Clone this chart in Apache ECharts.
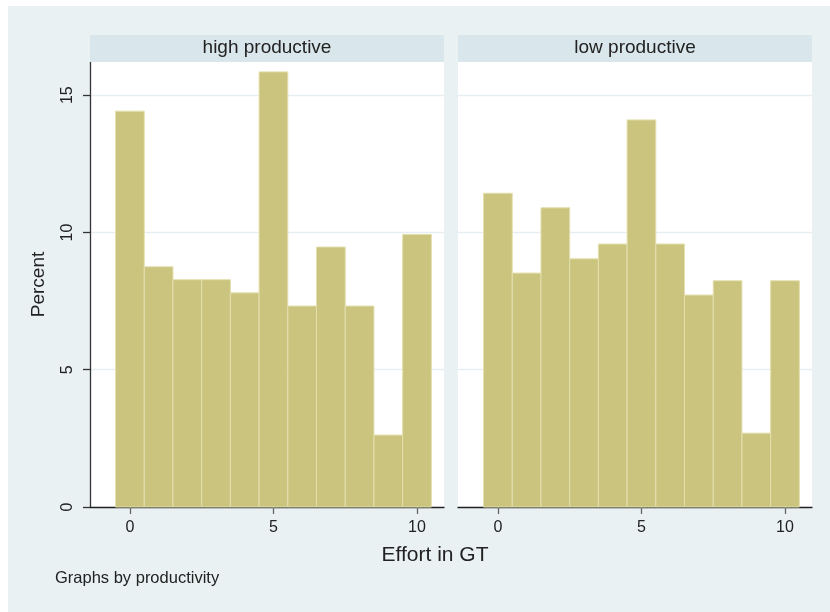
<!DOCTYPE html>
<html>
<head>
<meta charset="utf-8">
<script src="https://cdn.jsdelivr.net/npm/echarts@6/dist/echarts.min.js"></script>
<style>
html,body{margin:0;padding:0;background:#ffffff;}
#chart{width:830px;height:612px;}
</style>
</head>
<body>
<div id="chart"></div>
<script>
// Data
const effortBins = [0, 1, 2, 3, 4, 5, 6, 7, 8, 9, 10];
const highProductive = [14.42, 8.75, 8.28, 8.28, 7.80, 15.85, 7.32, 9.47, 7.32, 2.62, 9.93];
const lowProductive = [11.43, 8.52, 10.90, 9.04, 9.58, 14.10, 9.58, 7.72, 8.24, 2.69, 8.24];
const panelTitles = ['high productive', 'low productive'];
const xTicks = [0, 5, 10];
const yTicks = [0, 5, 10, 15];
const yTitle = 'Percent';
const xTitle = 'Effort in GT';
const note = 'Graphs by productivity';

const FONT = 'Liberation Sans, Arial, Helvetica, sans-serif';
const BAR_FILL = '#cbc47e';
const BAR_STROKE = '#e3dfae';
const GRID_LINE = '#e6eef1';

function renderBar(params, api) {
  const x = api.value(0), y = api.value(1);
  const p0 = api.coord([x - 0.5, y]);
  const p1 = api.coord([x + 0.5, 0]);
  return {
    type: 'rect',
    shape: {x: p0[0], y: p0[1], width: p1[0] - p0[0], height: p1[1] - p0[1]},
    style: {fill: BAR_FILL, stroke: BAR_STROKE, lineWidth: 1}
  };
}

const chart = echarts.init(document.getElementById('chart'), null, {renderer: 'canvas'});

function xAxisCfg(idx) {
  return {
    type: 'value', gridIndex: idx, min: -1.39, max: 10.94,
    axisLine: {show: true, onZero: false, lineStyle: {color: '#222', width: 1.3}},
    axisTick: {show: true, length: 7, customValues: xTicks, lineStyle: {color: '#666', width: 1.3}},
    axisLabel: {show: true, customValues: xTicks, fontSize: 16, color: '#222', fontFamily: FONT, margin: 13},
    splitLine: {show: false}
  };
}
function yAxisCfg(idx) {
  const first = idx === 0;
  return {
    type: 'value', gridIndex: idx, min: 0, max: 16.21,
    name: first ? yTitle : '', nameLocation: 'middle', nameRotate: 90, nameGap: 42,
    nameTextStyle: {fontSize: 19, color: '#222', fontFamily: FONT},
    axisLine: {show: first, onZero: false, lineStyle: {color: '#333', width: 1.3}},
    axisTick: {show: first, length: 7, customValues: yTicks, lineStyle: {color: '#333', width: 1.3}},
    axisLabel: {show: first, customValues: yTicks, rotate: 90, fontSize: 16, color: '#222', fontFamily: FONT, margin: 14},
    splitLine: {show: true, lineStyle: {color: GRID_LINE, width: 1.3}}
  };
}

const option = {
  animation: false,
  backgroundColor: '#ffffff',
  grid: [
    {left: 90, right: 386, top: 62, bottom: 105, show: true, backgroundColor: '#ffffff', borderWidth: 0},
    {left: 458, right: 18, top: 62, bottom: 105, show: true, backgroundColor: '#ffffff', borderWidth: 0}
  ],
  xAxis: [xAxisCfg(0), xAxisCfg(1)],
  yAxis: [yAxisCfg(0), yAxisCfg(1)],
  series: [
    {type: 'custom', xAxisIndex: 0, yAxisIndex: 0, renderItem: renderBar,
     data: effortBins.map((b, i) => [b, highProductive[i]])},
    {type: 'custom', xAxisIndex: 1, yAxisIndex: 1, renderItem: renderBar,
     data: effortBins.map((b, i) => [b, lowProductive[i]])}
  ],
  graphic: [
    {type: 'rect', z: -10, shape: {x: 8, y: 6, width: 822, height: 606}, style: {fill: '#e9f1f3'}},
    {type: 'rect', z: 5, shape: {x: 90, y: 35, width: 354, height: 27}, style: {fill: '#d9e6eb'}},
    {type: 'rect', z: 5, shape: {x: 458, y: 35, width: 354, height: 27}, style: {fill: '#d9e6eb'}},
    {type: 'text', z: 6, x: 267, y: 48, style: {text: panelTitles[0], fill: '#222', font: '19px ' + FONT, textAlign: 'center', textVerticalAlign: 'middle'}},
    {type: 'text', z: 6, x: 635, y: 48, style: {text: panelTitles[1], fill: '#222', font: '19px ' + FONT, textAlign: 'center', textVerticalAlign: 'middle'}},
    {type: 'text', z: 6, x: 435, y: 555, style: {text: xTitle, fill: '#222', font: '21px ' + FONT, textAlign: 'center', textVerticalAlign: 'middle'}},
    {type: 'text', z: 6, x: 55, y: 578, style: {text: note, fill: '#222', font: '16.5px ' + FONT, textAlign: 'left', textVerticalAlign: 'middle'}}
  ]
};
chart.setOption(option);
</script>
</body>
</html>
